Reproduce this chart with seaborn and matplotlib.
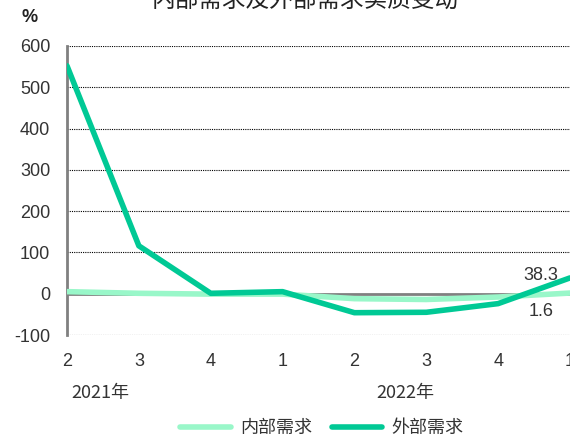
import matplotlib
matplotlib.use("Agg")
import matplotlib.pyplot as plt
import seaborn as sns
import pandas as pd

quarters = ["2", "3", "4", "1", "2", "3", "4", "1"]
years = ["2021年", "2022年"]
internal = [5, 1, -1, -1, -12, -14, -8, 1.6]
external = [552, 116, 1, 5, -46, -45, -24, 38.3]
series_names = ["内部需求", "外部需求"]
colors = ["#99F7C9", "#00C995"]
yticks = [-100, 0, 100, 200, 300, 400, 500, 600]

sns.set_theme(style="white")
plt.rcParams["axes.unicode_minus"] = False
num_font = ["Liberation Sans Narrow", "Liberation Sans", "DejaVu Sans"]
cjk_font = ["Noto Sans CJK SC", "DejaVu Sans"]

df = pd.DataFrame({
    "x": list(range(len(quarters))) * 2,
    "value": internal + external,
    "series": [series_names[0]] * len(quarters) + [series_names[1]] * len(quarters),
})

fig = plt.figure(figsize=(5.70, 4.37), dpi=100)
ax = fig.add_axes([67 / 570, 1 - 335 / 437, 1 - 67 / 570, (335 - 46) / 437])

for y in yticks:
    if y == 0:
        ax.axhline(0, color="#808080", lw=2, zorder=1)
    else:
        ax.axhline(y, color="black", lw=0.8, ls=(0, (1, 1)), zorder=1)

sns.lineplot(data=df, x="x", y="value", hue="series", palette=colors, ax=ax,
             lw=4, legend=False, zorder=3)

ax.set_xlim(0, len(quarters) - 1)
ax.set_ylim(-100, 600)
ax.set_yticks(yticks)
ax.set_xticks(range(len(quarters)))
ax.set_xticklabels(quarters)
ax.set_xlabel("")
ax.set_ylabel("")
for s in ["top", "right", "bottom"]:
    ax.spines[s].set_visible(False)
ax.spines["left"].set_color("#808080")
ax.spines["left"].set_linewidth(2)
ax.tick_params(axis="y", direction="in", length=5, width=1.5, color="#808080",
               labelsize=13, labelcolor="#333333", pad=12)
ax.tick_params(axis="x", length=0, labelsize=13, labelcolor="#333333", pad=13)
for lab in ax.get_yticklabels() + ax.get_xticklabels():
    lab.set_family(num_font)

ax.text(len(quarters) - 1.4, 44, f"{external[-1]}", ha="center", va="center",
        fontsize=13, color="#333333", family=num_font)
ax.text(len(quarters) - 1.4, -44, f"{internal[-1]}", ha="center", va="center",
        fontsize=13, color="#333333", family=num_font)

fig.text(30 / 570, 1 - 17 / 437, "%", ha="center", va="center", fontsize=13,
         color="#222222", family=num_font, weight="bold")
fig.text(305 / 570, 1 - 0 / 437, "内部需求及外部需求实质变动", ha="center", va="center",
         fontsize=17, color="#222222", family=cjk_font)
fig.text(100 / 570, 1 - 393 / 437, years[0], ha="center", va="center", fontsize=13,
         color="#333333", family=cjk_font)
fig.text(405 / 570, 1 - 393 / 437, years[1], ha="center", va="center", fontsize=13,
         color="#333333", family=cjk_font)

handles = [plt.Line2D([], [], color=c, lw=4) for c in colors]
leg = fig.legend(handles, series_names, loc="center", bbox_to_anchor=(322 / 570, 1 - 428 / 437),
                 ncol=2, frameon=False, handlelength=2.8, columnspacing=1.1, handletextpad=0.5,
                 prop={"family": cjk_font, "size": 13})
for t in leg.get_texts():
    t.set_color("#333333")

fig.savefig("out.png", dpi=100)
